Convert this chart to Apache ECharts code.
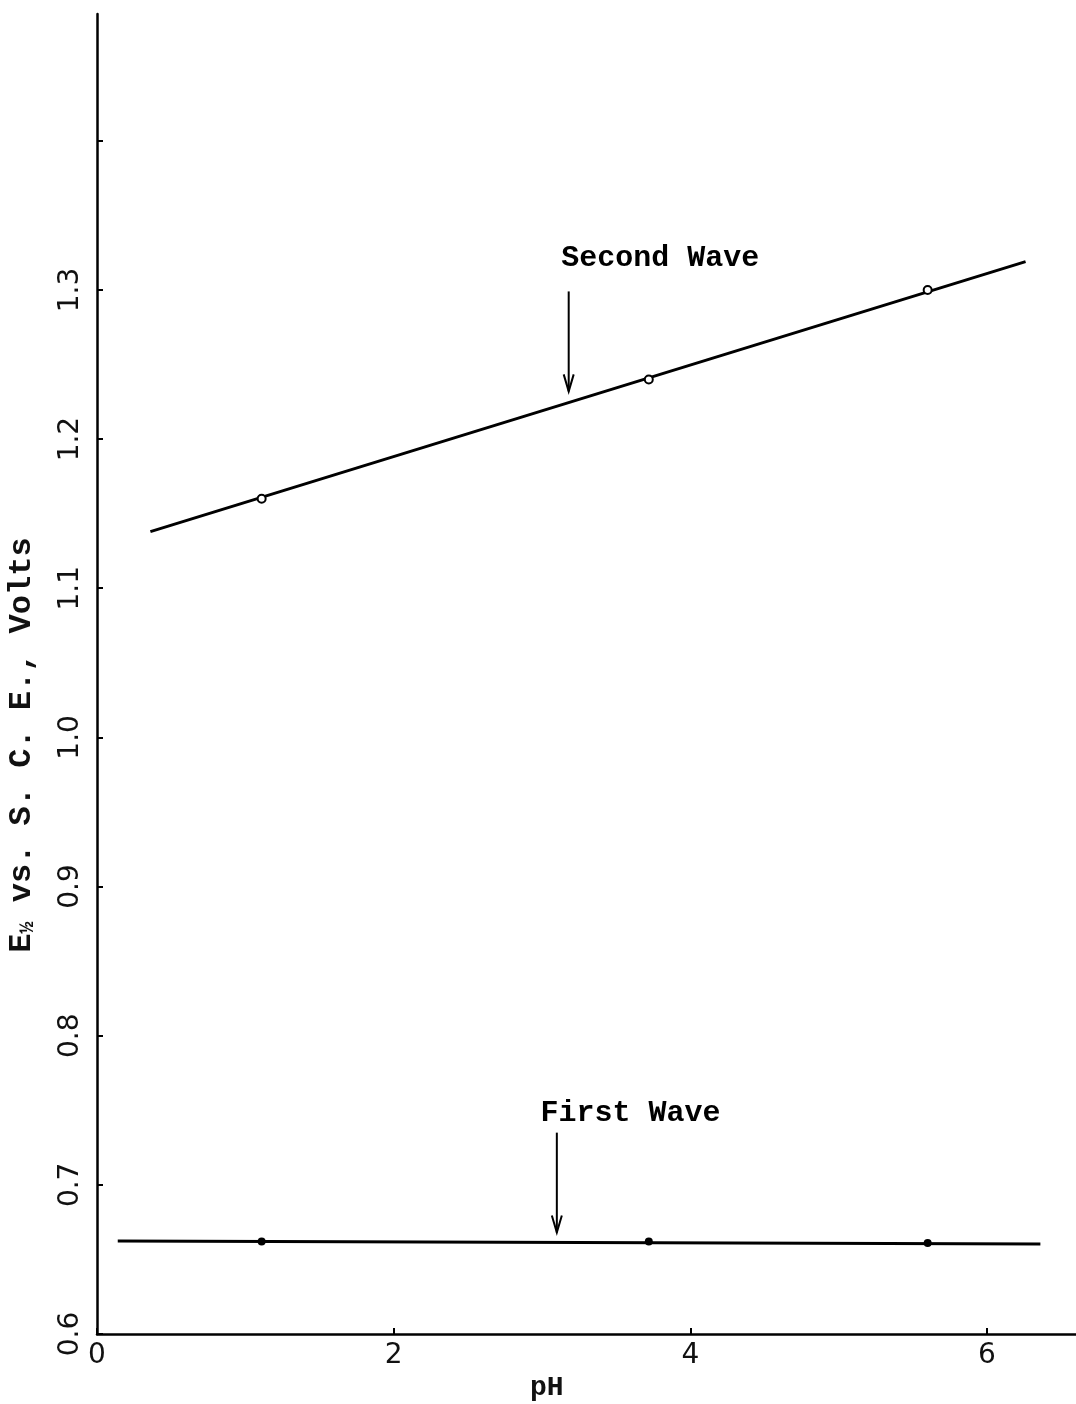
<!DOCTYPE html>
<html>
<head>
<meta charset="utf-8">
<script src="https://cdn.jsdelivr.net/npm/echarts@6/dist/echarts.min.js"></script>
<style>
html,body{margin:0;padding:0;background:#fff;}
#c{width:1076px;height:1404px;}
</style>
</head>
<body>
<div id="c"></div>
<script>
// ---- data ----
const pointPH = [1.11, 3.72, 5.60];
const secondWave = [1.160, 1.240, 1.300];
const firstWave = [0.662, 0.662, 0.661];
const secondFitPH = [0.36, 6.26];
const secondFitE = [1.138, 1.319];
const firstFitPH = [0.14, 6.36];
const firstFitE = [0.6623, 0.6603];
const annotTexts = ['Second Wave', 'First Wave'];
const annotPH = [3.13, 2.99];
const annotE = [1.321, 0.748];
const arrowPH = [3.18, 3.10];
const arrowFromE = [1.299, 0.735];
const arrowToE = [1.232, 0.668];
const xTickValues = [0, 2, 4, 6];
const yTickValues = [0.6, 0.7, 0.8, 0.9, 1.0, 1.1, 1.2, 1.3, 1.4];
const yLabelValues = [0.6, 0.7, 0.8, 0.9, 1.0, 1.1, 1.2, 1.3];
const xName = 'pH';
const yName = ['E', '½', ' vs. S. C. E., Volts'];

const zip = (a, b) => a.map((v, i) => [v, b[i]]);
const chart = echarts.init(document.getElementById('c'));
const mono = '"Liberation Mono", "DejaVu Sans Mono", monospace';
const sans = '"DejaVu Sans", sans-serif';

chart.setOption({
  animation: false,
  backgroundColor: '#fff',
  grid: { left: 97, right: 0, top: 14, bottom: 70, containLabel: false, outerBoundsMode: 'none' },
  xAxis: {
    type: 'value', min: 0, max: 6.6, interval: 2,
    axisLine: { lineStyle: { color: '#000', width: 2.5 } },
    axisTick: { show: true, inside: true, length: 6, customValues: xTickValues,
      lineStyle: { color: '#000', width: 2 } },
    axisLabel: { color: '#111', fontFamily: sans, fontSize: 28, margin: 8,
      customValues: xTickValues, formatter: v => String(v) },
    splitLine: { show: false }
  },
  yAxis: {
    type: 'value', min: 0.6, max: 1.485, interval: 0.1,
    axisLine: { lineStyle: { color: '#000', width: 2.5 } },
    axisTick: { show: true, inside: true, length: 6, customValues: yTickValues,
      lineStyle: { color: '#000', width: 2 } },
    axisLabel: { color: '#111', fontFamily: sans, fontSize: 28, rotate: 90, margin: 12,
      customValues: yLabelValues, formatter: v => v.toFixed(1) },
    splitLine: { show: false }
  },
  graphic: [
    { type: 'text', left: 530, top: 1374,
      style: { text: xName, font: 'bold 28px ' + mono, fill: '#111' } },
    { type: 'text', x: 22, y: 745, rotation: Math.PI / 2,
      style: {
        text: '{a|' + yName[0] + '}{f|' + yName[1] + '}{a|' + yName[2] + '}',
        align: 'center', verticalAlign: 'middle',
        rich: {
          a: { font: 'bold 32px ' + mono, fill: '#111' },
          f: { font: 'bold 20px ' + mono, fill: '#111', padding: [12, 0, 0, 0] }
        }
      } }
  ],
  series: [
    { type: 'line', data: zip(secondFitPH, secondFitE), symbol: 'none',
      lineStyle: { color: '#000', width: 3 } },
    { type: 'line', data: zip(firstFitPH, firstFitE), symbol: 'none',
      lineStyle: { color: '#000', width: 3 } },
    { type: 'scatter', data: zip(pointPH, secondWave), symbol: 'circle', symbolSize: 8,
      itemStyle: { color: '#fff', borderColor: '#000', borderWidth: 2, opacity: 1 }, z: 5 },
    { type: 'scatter', data: zip(pointPH, firstWave), symbol: 'circle', symbolSize: 8,
      itemStyle: { color: '#000', opacity: 1 }, z: 5 },
    { type: 'custom',
      data: arrowPH.map((x, i) => [x, arrowFromE[i], arrowToE[i]]),
      renderItem: (params, api) => {
        const p1 = api.coord([api.value(0), api.value(1)]);
        const p2 = api.coord([api.value(0), api.value(2)]);
        return { type: 'group', children: [
          { type: 'line', shape: { x1: p1[0], y1: p1[1], x2: p2[0], y2: p2[1] },
            style: { stroke: '#000', lineWidth: 2 } },
          { type: 'polyline', shape: { points: [[p2[0] - 5, p2[1] - 17], [p2[0], p2[1]], [p2[0] + 5, p2[1] - 17]] },
            style: { stroke: '#000', lineWidth: 2, fill: null } }
        ] };
      } },
    { type: 'scatter', symbolSize: 0,
      itemStyle: { opacity: 1 },
      data: annotTexts.map((t, i) => ({ name: t, value: [annotPH[i], annotE[i]] })),
      label: { show: true, position: 'right', distance: 0, formatter: p => p.name,
        fontFamily: mono, fontWeight: 'bold', fontSize: 30, color: '#000', opacity: 1 } }
  ]
});
</script>
</body>
</html>
